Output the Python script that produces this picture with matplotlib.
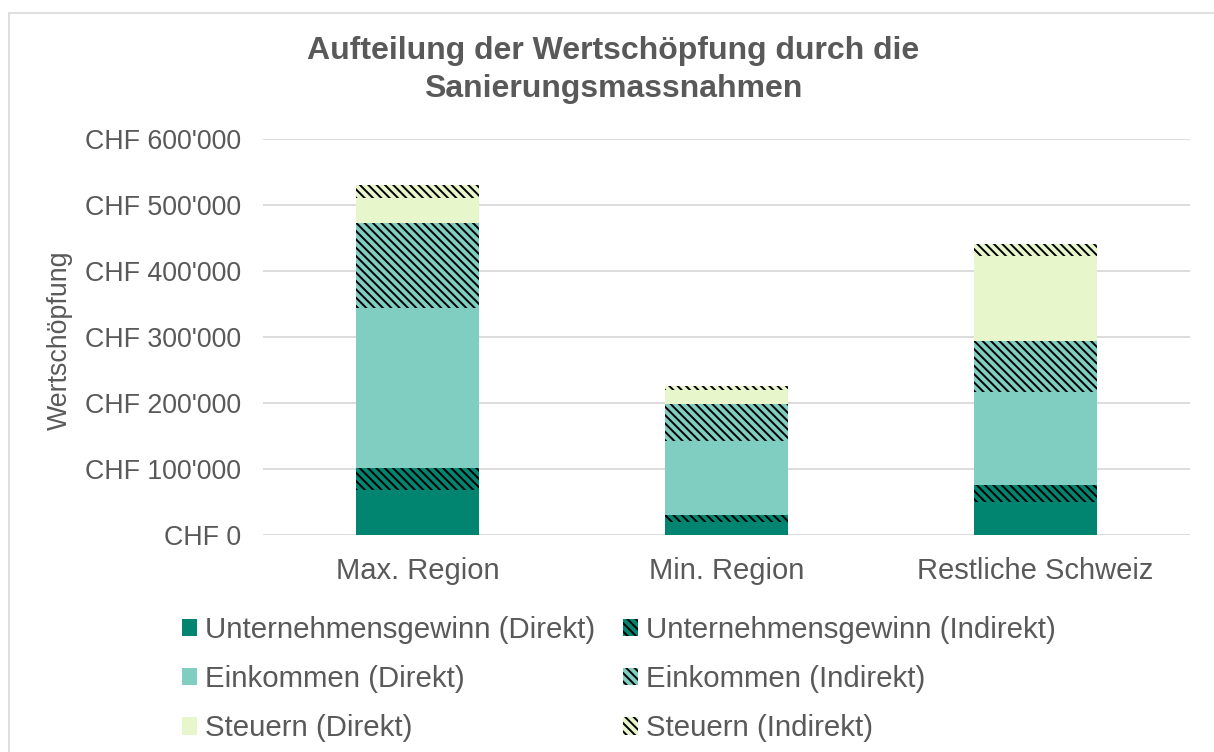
import numpy as np
import matplotlib
matplotlib.use("Agg")
from matplotlib import pyplot as plt
from matplotlib.patches import Rectangle
from matplotlib.ticker import FuncFormatter

categories = ["Max. Region", "Min. Region", "Restliche Schweiz"]
ug_direkt = [68000, 20000, 50500]
ug_indirekt = [34000, 11000, 25000]
eink_direkt = [241500, 111000, 141000]
eink_indirekt = [128500, 57000, 77000]
steuern_direkt = [38000, 20000, 129000]
steuern_indirekt = [20000, 6500, 18000]

series = [
    ("Unternehmensgewinn (Direkt)", ug_direkt, "#018571", None),
    ("Unternehmensgewinn (Indirekt)", ug_indirekt, "#018571", "\\\\\\\\"),
    ("Einkommen (Direkt)", eink_direkt, "#80cdc1", None),
    ("Einkommen (Indirekt)", eink_indirekt, "#80cdc1", "\\\\\\\\"),
    ("Steuern (Direkt)", steuern_direkt, "#e8f6cc", None),
    ("Steuern (Indirekt)", steuern_indirekt, "#e8f6cc", "\\\\\\\\"),
]

text_col = "#595959"
grid_col = "#d9d9d9"
plt.rcParams["font.family"] = ["Liberation Sans", "DejaVu Sans"]
plt.rcParams["hatch.linewidth"] = 1.4

fig = plt.figure(figsize=(12.14, 7.52), dpi=100)
ax = fig.add_axes([263 / 1214, 1 - 535 / 752, 927 / 1214, 396 / 752])

x = np.arange(len(categories))
bottom = np.zeros(len(categories))
handles = []
for label, vals, col, hatch in series:
    if hatch:
        b = ax.bar(x, vals, 0.4, bottom=bottom, color=col, edgecolor="black",
                   linewidth=0, hatch=hatch, label=label, zorder=3)
    else:
        b = ax.bar(x, vals, 0.4, bottom=bottom, color=col, linewidth=0,
                   label=label, zorder=3)
    handles.append(b)
    bottom += np.array(vals)

ax.set_xlim(-0.5, 2.5)
ax.set_ylim(0, 600000)
ax.set_yticks(np.arange(0, 600001, 100000))
ax.yaxis.set_major_formatter(FuncFormatter(
    lambda v, p: "CHF " + f"{int(v):,}".replace(",", "'")))
ax.set_xticks(x)
ax.set_xticklabels(categories)
ax.grid(axis="y", color=grid_col, linewidth=1.3, zorder=0)
for s in ax.spines.values():
    s.set_visible(False)
ax.tick_params(axis="y", length=0, pad=16, labelsize=19.3, labelcolor=text_col)
ax.tick_params(axis="x", length=0, pad=16, labelsize=21, labelcolor=text_col)

fig.text(60 / 1214, 1 - 340 / 752, "Wertschöpfung", rotation=90, ha="center",
         va="center", fontsize=19.3, color=text_col)
fig.text(613 / 1214, 1 - 70 / 752,
         "Aufteilung der Wertschöpfung durch die\nSanierungsmassnahmen",
         ha="center", va="center", fontsize=23, fontweight="bold",
         color=text_col, linespacing=1.32)

# row-wise order: direct in the left column, indirect in the right
order = [0, 2, 4, 1, 3, 5]
leg = fig.legend([handles[i] for i in order], [series[i][0] for i in order],
                 loc="upper left", bbox_to_anchor=(182 / 1214, 1 - 616 / 752),
                 ncol=2, frameon=False, fontsize=21.2, borderpad=0,
                 borderaxespad=0, handlelength=0.52, handleheight=0.52,
                 handletextpad=0.25, columnspacing=0.95, labelspacing=0.72)
for t in leg.get_texts():
    t.set_color(text_col)

fig.patches.append(Rectangle((9 / 1214, -0.05), 1.2, 1 - 13 / 752 + 0.05,
                             transform=fig.transFigure, fill=False,
                             edgecolor=grid_col, linewidth=1.2))

fig.savefig("out.png", dpi=100)
